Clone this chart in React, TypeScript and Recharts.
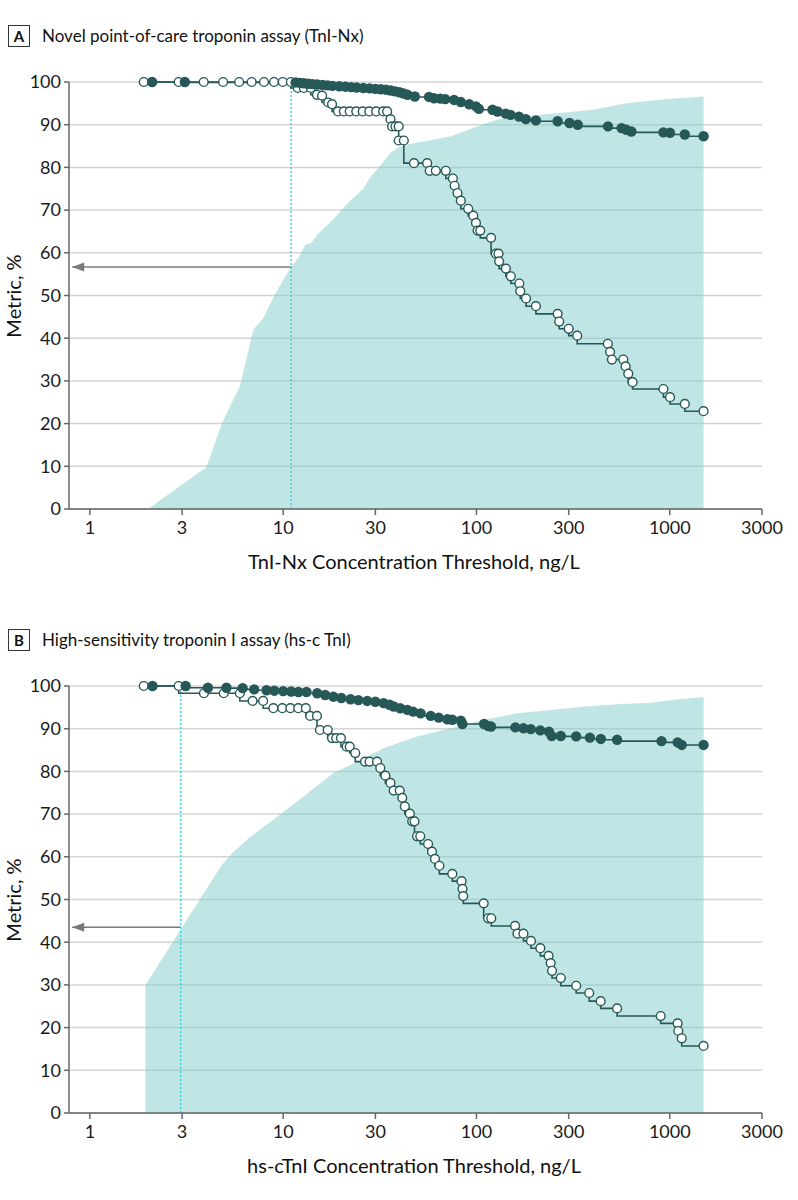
import React from "react";
import { ComposedChart, Line, Area, XAxis, YAxis, CartesianGrid } from "recharts";

const DARK = "#275858";
const SHADE = "#80cccc";
const DOTTED = "#3cd6e6";
const ARROW = "#7a7a7a";
const FONT = "Lato, 'Noto Sans', sans-serif";

const xTicks = [1, 3, 10, 30, 100, 300, 1000, 3000];
const yTicks = [0, 10, 20, 30, 40, 50, 60, 70, 80, 90, 100];

// ---------- Panel A: TnI-Nx ----------
const aShadeX = [2.0, 4.0, 4.85, 6.0, 7.0, 7.9, 9.0, 11, 12, 13, 14, 15, 18, 22, 26, 28.5, 32, 36, 40, 45, 60, 74, 100, 128, 200, 263, 400, 610, 980, 1496];
const aShadeY = [0, 9.8, 20.3, 29, 42, 44.7, 50, 56.8, 58.8, 61.9, 62.3, 64.2, 67.7, 72, 75, 78, 80.5, 83.5, 84.8, 85.5, 86.5, 87.3, 89.5, 91.2, 92.2, 92.7, 93.5, 95.1, 96.0, 96.6];

const aOpenX = [1.9, 2.88, 3.88, 4.89, 5.92, 6.87, 7.96, 8.97, 9.95, 10.96, 11.9, 12.8, 13.9, 14.96, 15.9, 17.1, 17.9, 19.2, 20.6, 22.1, 23.9, 25.8, 27.9, 30.3, 32.9, 34.5, 35.9, 36.6, 38.1, 39.6, 39.6, 42.1, 47.5, 55.6, 57.3, 61.6, 69.4, 75.5, 77.1, 79.8, 83.0, 90.6, 96.3, 99.4, 101.4, 104.6, 119, 126, 130, 131, 142, 150.6, 166.6, 168.5, 180.5, 203, 263, 268, 300, 332, 478, 491, 502, 575, 591, 610, 642, 927, 1003, 1196, 1496];
const aOpenY = [100, 100, 100, 100, 100, 100, 100, 100, 100, 100, 98.6, 98.6, 98.6, 97.0, 96.8, 95.2, 94.8, 93.1, 93.1, 93.1, 93.1, 93.1, 93.1, 93.1, 93.1, 93.1, 91.3, 89.6, 89.6, 89.6, 86.3, 86.3, 81.0, 81.0, 79.2, 79.2, 79.2, 77.4, 75.7, 74.0, 72.2, 70.3, 68.7, 67.0, 65.2, 65.2, 63.5, 59.8, 59.8, 58.0, 56.3, 54.5, 52.8, 51.0, 49.3, 47.5, 45.7, 43.9, 42.2, 40.6, 38.7, 36.8, 35.0, 35.0, 33.4, 31.7, 29.7, 28.1, 26.2, 24.6, 22.9];

const aFilledX = [2.1, 3.1, 11.6, 12.2, 12.8, 13.5, 14.2, 15, 16, 17, 18, 19.5, 21, 22.5, 24, 26, 28, 30, 32, 34, 36, 38, 40, 42, 44, 48, 56.8, 60.3, 65, 69, 76.6, 83, 91.7, 99.4, 103, 121, 128.5, 141.6, 150, 166, 180, 203, 263, 303, 334, 479, 563, 596, 633, 927, 1003, 1196, 1496];
const aFilledY = [100, 100, 99.9, 99.8, 99.7, 99.6, 99.5, 99.4, 99.3, 99.2, 99.1, 99.0, 98.9, 98.8, 98.7, 98.6, 98.5, 98.4, 98.3, 98.2, 98.0, 97.8, 97.6, 97.3, 97.0, 96.6, 96.5, 96.2, 96.1, 96.0, 95.8, 95.3, 94.8, 94.3, 93.7, 93.5, 93.1, 92.6, 92.3, 91.9, 91.3, 91.0, 90.8, 90.4, 90.0, 89.6, 89.2, 88.8, 88.4, 88.2, 88.1, 87.7, 87.3];

const aCutoff = 11;
const aCutoffTop = 100;
const aArrowY = 56.7;

// ---------- Panel B: hs-cTnI ----------
const bShadeX = [1.94, 1.94, 3.0, 4.8, 5.5, 6.7, 10.4, 18.2, 22.3, 33, 49.3, 73.7, 109.5, 163, 243, 363, 541, 805, 1111, 1496];
const bShadeY = [0, 30, 43.5, 58, 61, 64.5, 71, 79.6, 81.5, 85.4, 88.2, 90.1, 92.1, 93.6, 94.4, 95.2, 95.7, 96.1, 96.9, 97.4];

const bOpenX = [1.9, 2.88, 3.89, 4.93, 5.97, 6.95, 7.88, 8.9, 9.9, 10.9, 11.97, 13.1, 13.8, 14.96, 15.5, 17.0, 17.9, 18.8, 19.9, 21.3, 22.1, 23.6, 26.5, 28.0, 30.6, 31.8, 33.8, 35.9, 37.3, 40.1, 41.3, 42.6, 45.2, 46.5, 47.8, 49.3, 51.2, 56.2, 58.9, 61.0, 64.3, 75.0, 83.7, 84.7, 85.4, 109, 115, 119.3, 158.5, 163, 175, 191.5, 214, 236, 242, 246, 273, 328, 383, 439, 534, 897, 1098, 1107, 1153, 1496];
const bOpenY = [100, 100, 98.3, 98.3, 98.3, 96.5, 96.5, 94.8, 94.8, 94.8, 94.8, 94.8, 93.0, 93.0, 89.7, 89.7, 87.8, 87.8, 87.8, 85.8, 85.8, 84.3, 82.3, 82.3, 82.3, 80.8, 79.0, 77.3, 75.5, 75.5, 73.8, 71.8, 70.1, 68.3, 68.3, 64.8, 64.8, 63.0, 61.2, 59.5, 57.9, 56.0, 54.3, 52.5, 50.8, 49.1, 45.6, 45.6, 43.8, 42.0, 42.0, 40.3, 38.6, 36.8, 35.1, 33.3, 31.6, 29.8, 28.1, 26.2, 24.5, 22.7, 21.0, 19.2, 17.5, 15.7];

const bFilledX = [2.11, 3.13, 4.08, 5.09, 6.17, 7.08, 8.2, 9.0, 10.0, 11.0, 12.0, 13.2, 15, 16.5, 18.2, 20, 22.3, 24.5, 27.2, 30, 33.1, 35.5, 37.3, 40.3, 43.9, 47, 51.4, 58, 63.8, 70.7, 75, 83, 84.6, 109.5, 115, 119, 159, 175, 191, 214, 237, 245, 273, 328, 386, 440, 534, 906, 1098, 1153, 1496];
const bFilledY = [100, 100, 99.6, 99.6, 99.5, 99.2, 99.0, 98.9, 98.8, 98.7, 98.6, 98.6, 98.3, 97.9, 97.5, 97.2, 96.9, 96.7, 96.5, 96.3, 96.0, 95.6, 95.2, 94.8, 94.4, 94.0, 93.6, 93.0, 92.6, 92.2, 92.1, 91.9, 91.1, 91.1, 90.6, 90.5, 90.3, 90.1, 89.9, 89.6, 89.3, 88.3, 88.3, 88.2, 87.9, 87.6, 87.4, 87.1, 86.8, 86.2, 86.2];

const bCutoff = 2.95;
const bCutoffTop = 100;
const bArrowY = 43.5;

const ARROW_END = 0.81;

const zip = (xs: number[], ys: number[]) => xs.map((x, i) => ({ x, y: ys[i] }));

const OpenDot = (props: any) => {
  const { cx, cy, index } = props;
  if (cx == null || cy == null) return <g key={`o${index}`} />;
  return <circle key={`o${index}`} cx={cx} cy={cy} r={4.4} fill="#ffffff" stroke={DARK} strokeWidth={1.4} />;
};
const FilledDot = (props: any) => {
  const { cx, cy, index } = props;
  if (cx == null || cy == null) return <g key={`f${index}`} />;
  return <circle key={`f${index}`} cx={cx} cy={cy} r={5.2} fill={DARK} stroke="none" />;
};
const ArrowHead = (props: any) => {
  const { cx, cy, index } = props;
  if (index !== 1 || cx == null) return <g key={`a${index}`} />;
  return <polygon key={`a${index}`} points={`${cx},${cy} ${cx + 12},${cy - 4.5} ${cx + 12},${cy + 4.5}`} fill={ARROW} />;
};

type PanelProps = {
  shade: { x: number; y: number }[];
  open: { x: number; y: number }[];
  filled: { x: number; y: number }[];
  cutoff: number;
  cutoffTop: number;
  arrowY: number;
};

const tickStyle = { fontFamily: FONT, fontSize: 18, fill: "#1a1a1a" };

const Panel = ({ shade, open, filled, cutoff, cutoffTop, arrowY }: PanelProps) => {
  const vline = [{ x: cutoff, y: 0 }, { x: cutoff, y: cutoffTop }];
  const arrow = [{ x: cutoff, y: arrowY }, { x: ARROW_END, y: arrowY }];
  return (
    <ComposedChart width={798} height={600} data={shade} margin={{ top: 82, right: 36, bottom: 31, left: 0 }}>
      <CartesianGrid vertical={false} stroke="#d4d4d4" strokeWidth={1.5} />
      <XAxis
        type="number"
        dataKey="x"
        scale="log"
        domain={[0.78, 3000]}
        allowDataOverflow
        ticks={xTicks}
        tickFormatter={(v: number) => String(v)}
        height={60}
        tick={tickStyle}
        tickSize={6}
        tickMargin={6}
        axisLine={{ stroke: "#666", strokeWidth: 1.5 }}
        tickLine={{ stroke: "#666", strokeWidth: 1.5 }}
        interval={0}
      />
      <YAxis
        type="number"
        domain={[0, 100]}
        ticks={yTicks}
        width={69}
        tick={tickStyle}
        tickSize={5}
        tickMargin={3}
        axisLine={{ stroke: "#666", strokeWidth: 1.5 }}
        tickLine={{ stroke: "#666", strokeWidth: 1.5 }}
        interval={0}
      />
      <Area
        type="linear"
        dataKey="y"
        stroke="none"
        fill={SHADE}
        fillOpacity={0.5}
        isAnimationActive={false}
        baseValue={0}
      />
      <Line
        data={vline}
        type="linear"
        dataKey="y"
        stroke={DOTTED}
        strokeWidth={1.5}
        strokeDasharray="2 2"
        dot={false}
        isAnimationActive={false}
      />
      <Line
        data={arrow}
        type="linear"
        dataKey="y"
        stroke={ARROW}
        strokeWidth={1.5}
        dot={ArrowHead}
        isAnimationActive={false}
      />
      <Line
        data={open}
        type="stepBefore"
        dataKey="y"
        stroke={DARK}
        strokeWidth={1.6}
        dot={OpenDot}
        isAnimationActive={false}
      />
      <Line
        data={filled}
        type="stepBefore"
        dataKey="y"
        stroke={DARK}
        strokeWidth={1.6}
        dot={FilledDot}
        isAnimationActive={false}
      />
    </ComposedChart>
  );
};

const titleStyle: React.CSSProperties = {
  position: "absolute",
  fontFamily: FONT,
  fontSize: 17,
  color: "#111",
  display: "flex",
  alignItems: "center",
  whiteSpace: "nowrap",
  lineHeight: "22px",
};
const boxStyle: React.CSSProperties = {
  border: "1.5px solid #333",
  width: 22,
  height: 22,
  display: "flex",
  alignItems: "center",
  justifyContent: "center",
  fontWeight: 700,
  fontSize: 15,
  marginRight: 12,
  boxSizing: "border-box",
};
const axisTitle: React.CSSProperties = {
  position: "absolute",
  fontFamily: FONT,
  fontSize: 20,
  color: "#111",
  whiteSpace: "nowrap",
  transform: "translate(-50%, -50%)",
};
const yTitle: React.CSSProperties = {
  position: "absolute",
  fontFamily: FONT,
  fontSize: 20,
  color: "#111",
  whiteSpace: "nowrap",
  transform: "translate(-50%, -50%) rotate(-90deg)",
};

export default function App() {
  return (
    <div style={{ position: "absolute", left: 0, top: 0, width: 798, height: 1200, background: "#fff" }}>
      <div style={{ position: "absolute", left: 0, top: 0 }}>
        <Panel shade={zip(aShadeX, aShadeY)} open={zip(aOpenX, aOpenY)} filled={zip(aFilledX, aFilledY)} cutoff={aCutoff} cutoffTop={aCutoffTop} arrowY={aArrowY} />
      </div>
      <div style={{ position: "absolute", left: 0, top: 604 }}>
        <Panel shade={zip(bShadeX, bShadeY)} open={zip(bOpenX, bOpenY)} filled={zip(bFilledX, bFilledY)} cutoff={bCutoff} cutoffTop={bCutoffTop} arrowY={bArrowY} />
      </div>

      <div style={{ ...titleStyle, left: 8, top: 25 }}>
        <div style={boxStyle}>A</div>
        <span>Novel point-of-care troponin assay (TnI-Nx)</span>
      </div>
      <div style={{ ...titleStyle, left: 8, top: 629 }}>
        <div style={boxStyle}>B</div>
        <span>High-sensitivity troponin I assay (hs-c TnI)</span>
      </div>

      <div style={{ ...yTitle, left: 13, top: 296 }}>Metric, %</div>
      <div style={{ ...yTitle, left: 13, top: 900 }}>Metric, %</div>

      <div style={{ ...axisTitle, left: 414, top: 561 }}>TnI-Nx Concentration Threshold, ng/L</div>
      <div style={{ ...axisTitle, left: 414, top: 1165 }}>hs-cTnI Concentration Threshold, ng/L</div>
    </div>
  );
}
